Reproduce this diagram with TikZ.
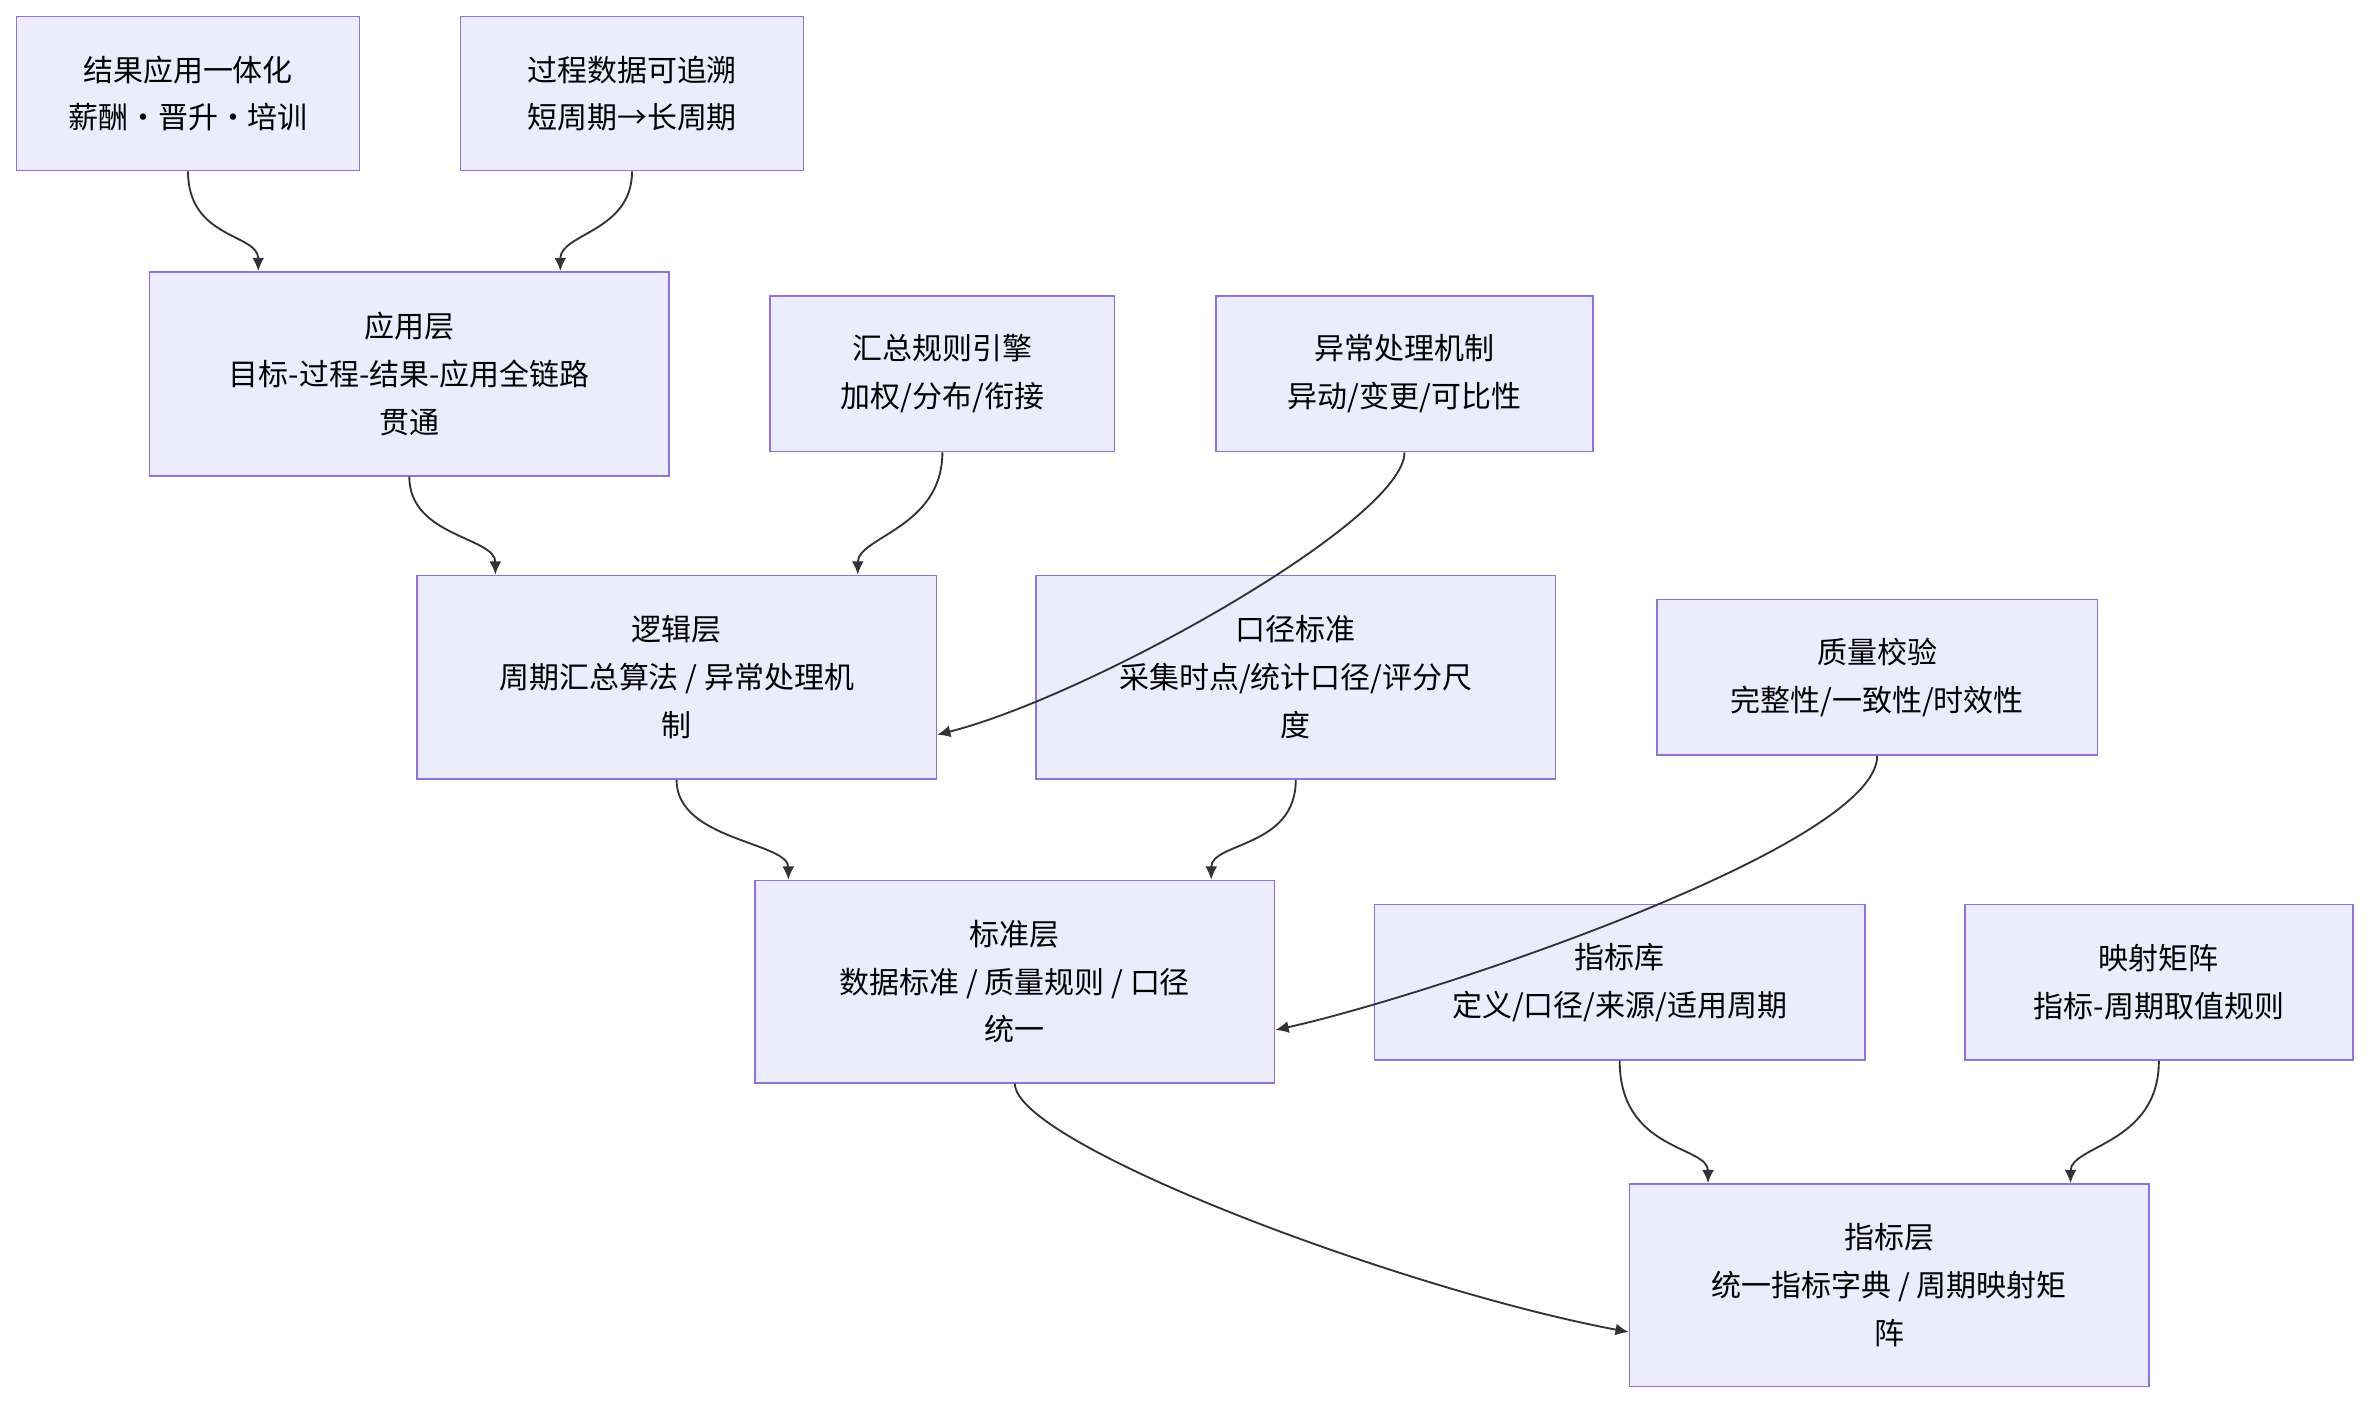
\documentclass[tikz,border=0pt]{standalone}
\usepackage{fontspec}
\setmainfont{Noto Sans CJK SC}
\usetikzlibrary{positioning,arrows.meta}
\definecolor{boxFill}{HTML}{ECECFF}
\definecolor{boxLine}{HTML}{9370DB}
\definecolor{edgeGray}{HTML}{333333}
\tikzset{
  layer/.style={draw=boxLine, fill=boxFill, line width=0.6pt, align=center,
    font=\fontsize{11.3}{18}\selectfont, inner sep=0pt},
  link/.style={edgeGray, line width=0.7pt, -{Latex[length=5pt,width=4.5pt]}}
}
\begin{document}
\begin{tikzpicture}[x=0.02cm, y=-0.02cm]
  \useasboundingbox (0,0) rectangle (1568,930);
  % top row
  \node[layer, minimum width=227*0.02cm, minimum height=102*0.02cm] (result) at (124.5,62) {结果应用一体化\\薪酬·晋升·培训};
  \node[layer, minimum width=227*0.02cm, minimum height=102*0.02cm] (trace) at (418.5,62) {过程数据可追溯\\短周期→长周期};
  % application layer
  \node[layer, minimum width=344*0.02cm, minimum height=135*0.02cm] (app) at (271,247.5) {应用层\\目标-过程-结果-应用全链路\\贯通};
  \node[layer, minimum width=228*0.02cm, minimum height=103*0.02cm] (rule) at (624,247.5) {汇总规则引擎\\加权/分布/衔接};
  \node[layer, minimum width=250*0.02cm, minimum height=103*0.02cm] (abn) at (930,247.5) {异常处理机制\\异动/变更/可比性};
  % logic layer
  \node[layer, minimum width=344*0.02cm, minimum height=135*0.02cm] (logic) at (448,448.5) {逻辑层\\周期汇总算法 / 异常处理机\\制};
  \node[layer, minimum width=344*0.02cm, minimum height=135*0.02cm] (caliber) at (858,448.5) {口径标准\\采集时点/统计口径/评分尺\\度};
  \node[layer, minimum width=292*0.02cm, minimum height=103*0.02cm] (check) at (1243,448.5) {质量校验\\完整性/一致性/时效性};
  % standard layer
  \node[layer, minimum width=344*0.02cm, minimum height=134*0.02cm] (std) at (672,650) {标准层\\数据标准 / 质量规则 / 口径\\统一};
  \node[layer, minimum width=325*0.02cm, minimum height=103*0.02cm] (lib) at (1072.5,650.5) {指标库\\定义/口径/来源/适用周期};
  \node[layer, minimum width=257*0.02cm, minimum height=103*0.02cm] (map) at (1429.5,650.5) {映射矩阵\\指标-周期取值规则};
  % indicator layer
  \node[layer, minimum width=344*0.02cm, minimum height=134*0.02cm] (ind) at (1251,851) {指标层\\统一指标字典 / 周期映射矩\\阵};

  % connectors
  \draw[link] (result.south) .. controls +(0,45) and +(0,-25) .. ([xshift=-100*0.02cm]app.north);
  \draw[link] (trace.south) .. controls +(0,40) and +(0,-25) .. ([xshift=100*0.02cm]app.north);
  \draw[link] (app.south) .. controls +(0,40) and +(0,-25) .. ([xshift=-120*0.02cm]logic.north);
  \draw[link] (rule.south) .. controls +(0,50) and +(0,-25) .. ([xshift=120*0.02cm]logic.north);
  \draw[link] (abn.south) .. controls +(0,45) and +(100,-25) .. ([yshift=-38*0.02cm]logic.east);
  \draw[link] (logic.south) .. controls +(0,40) and +(0,-25) .. ([xshift=-150*0.02cm]std.north);
  \draw[link] (caliber.south) .. controls +(0,45) and +(0,-25) .. ([xshift=130*0.02cm]std.north);
  \draw[link] (check.south) .. controls +(0,60) and +(100,-22) .. ([yshift=-32*0.02cm]std.east);
  \draw[link] (std.south) .. controls +(0,40) and +(-150,-28) .. ([yshift=-31*0.02cm]ind.west);
  \draw[link] (lib.south) .. controls +(0,60) and +(0,-25) .. ([xshift=-120*0.02cm]ind.north);
  \draw[link] (map.south) .. controls +(0,55) and +(0,-25) .. ([xshift=120*0.02cm]ind.north);
\end{tikzpicture}
\end{document}
